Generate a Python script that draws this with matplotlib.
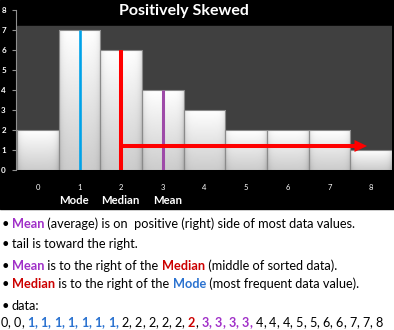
import numpy as np
import matplotlib
matplotlib.use("Agg")
import matplotlib.pyplot as plt
from matplotlib.patches import Rectangle
from matplotlib.font_manager import FontProperties

# histogram data
values = [0, 1, 2, 3, 4, 5, 6, 7, 8]
counts = [2, 7, 6, 4, 3, 2, 2, 2, 1]
marker_names = ["Mode", "Median", "Mean"]
title = "Positively Skewed"

# colours
mode_col = "#00a2e8"
median_col = "#ff0000"
mean_col = "#9e4aa8"
mode_txt = "#2a72d0"
median_txt = "#cc0000"
mean_txt = "#a030c8"

# bullet text, one list of (text, colour, bold) per line
bullets = [
    [("Mean", mean_txt, True), (" (average) is on  positive (right) side of most data values.", "black", False)],
    [("tail is toward the right.", "black", False)],
    [("Mean", mean_txt, True), (" is to the right of the ", "black", False),
     ("Median", median_txt, True), (" (middle of sorted data).", "black", False)],
    [("Median", median_txt, True), (" is to the right of the ", "black", False),
     ("Mode", mode_txt, True), (" (most frequent data value).", "black", False)],
    [("data:", "black", False)],
]

data = np.repeat(values, counts)
mode_x = values[int(np.argmax(counts))]
median_x = float(np.median(data))
mean_x = float(data.mean())

W, H = 394, 330
fig = plt.figure(figsize=(W / 100, H / 100), dpi=100, facecolor="white")
fnt = "Lato"

# black panel behind the chart
fig.add_artist(Rectangle((0, 1 - 209 / H), 1, 209 / H, transform=fig.transFigure,
                         color="black", zorder=-10))

ax = fig.add_axes([17 / W, 1 - 170 / H, 375 / W, 160 / H])
ax.set_facecolor("none")
ax.axhspan(0, 7.2, color="#404040", zorder=0)

bars = ax.bar(values, counts, width=1, color="none", edgecolor="#8a8a8a", lw=0.8, zorder=2)
vert = np.linspace(0.80, 1.0, 100)[:, None]
xx = np.linspace(0, 1, 60)
edge = np.exp(-np.minimum(xx, 1 - xx) / 0.06)[None, :]
grad = np.clip(vert - 0.12 * edge, 0, 1)
for b in bars:
    im = ax.imshow(grad, cmap="gray", vmin=0, vmax=1, origin="lower", aspect="auto",
                   extent=[b.get_x(), b.get_x() + b.get_width(), 0, b.get_height()],
                   zorder=1.5)
    im.set_clip_path(b)

# mode / median / mean markers
ax.vlines(mode_x, 0, counts[values.index(mode_x)], color=mode_col, lw=1.9, zorder=3)
ax.vlines(mean_x, 0, counts[values.index(round(mean_x))], color=mean_col, lw=2.2, zorder=3)
ax.vlines(median_x, 0, counts[values.index(round(median_x))], color=median_col, lw=2.9, zorder=4)
ax.annotate("", xy=(7.9, 1.2), xytext=(median_x, 1.2),
            arrowprops=dict(arrowstyle="simple,head_length=9,head_width=8.6,tail_width=2.9",
                            mutation_scale=1, color=median_col, lw=0, shrinkA=0, shrinkB=0),
            zorder=4)

ax.set_xlim(-0.5, 8.5)
ax.set_ylim(0, 8)
for s in ["top", "right", "bottom"]:
    ax.spines[s].set_visible(False)
ax.spines["left"].set_color("#909090")
ax.spines["left"].set_linewidth(0.8)
ax.spines["left"].set_position(("outward", 1))
ax.set_xticks(values)
ax.set_yticks(range(0, 9))
ax.tick_params(axis="x", length=0, pad=10, labelcolor="white", labelsize=5.5)
ax.tick_params(axis="y", length=3, width=0.8, color="#909090", pad=4, labelcolor="white", labelsize=5.8)
for lab in ax.get_xticklabels() + ax.get_yticklabels():
    lab.set_fontfamily(fnt)
for lab in ax.get_yticklabels():
    lab.set_fontweight("bold")

# labels under the bars, nudged a little as in the original slide
label_shift = [-6, -1, 5]
for x, name, dx in zip([mode_x, median_x, mean_x], marker_names, label_shift):
    ax.annotate(name, (x, -31 / 160), xycoords=ax.get_xaxis_transform(),
                xytext=(dx * 0.72, 0), textcoords="offset points", ha="center", va="center",
                color="white", fontweight="bold", fontsize=8.2, family=fnt)

fig.text(183.5 / W, 1 - 11 / H, title, ha="center", va="center", color="white",
         fontweight="bold", fontsize=11.5, family=fnt)

# bullet text below the chart
renderer = fig.canvas.get_renderer()


def text_w(s, fp):
    w1 = renderer.get_text_width_height_descent("|" + s + "|", fp, ismath=False)[0]
    w0 = renderer.get_text_width_height_descent("||", fp, ismath=False)[0]
    return w1 - w0


def draw_pieces(pieces, x_px, base_px, size):
    x = x_px
    for s, col, bold in pieces:
        fp = FontProperties(family=fnt, size=size, weight="bold" if bold else "normal")
        fig.text(x / W, 1 - base_px / H, s, color=col, fontproperties=fp, va="baseline")
        x += text_w(s, fp)


size = 9.2
baselines = [228, 248, 270, 288, 310]
for pieces, base in zip(bullets, baselines):
    fig.text(2 / W, 1 - base / H, "\u2022", color="black", fontsize=size, va="baseline", family=fnt)
    draw_pieces(pieces, 12, base, size)

# data line: 1s in blue, the median element in red, 3s in purple
data_pieces = []
mid = len(data) // 2
for i, v in enumerate(data):
    last = i == len(data) - 1
    if v == mode_x:
        col, bold = mode_txt, True
    elif i == mid:
        col, bold = median_txt, True
    elif v == round(mean_x):
        col, bold = mean_txt, True
    else:
        col, bold = "black", False
    data_pieces.append((str(v), col, bold))
    if not last:
        comma_col = "black" if i == mid else col
        data_pieces.append((",", comma_col, bold and i != mid))
        data_pieces.append((" ", "black", False))
draw_pieces(data_pieces, 0.5, 327, 9.1)

fig.savefig("out.png", dpi=100, facecolor="white")
